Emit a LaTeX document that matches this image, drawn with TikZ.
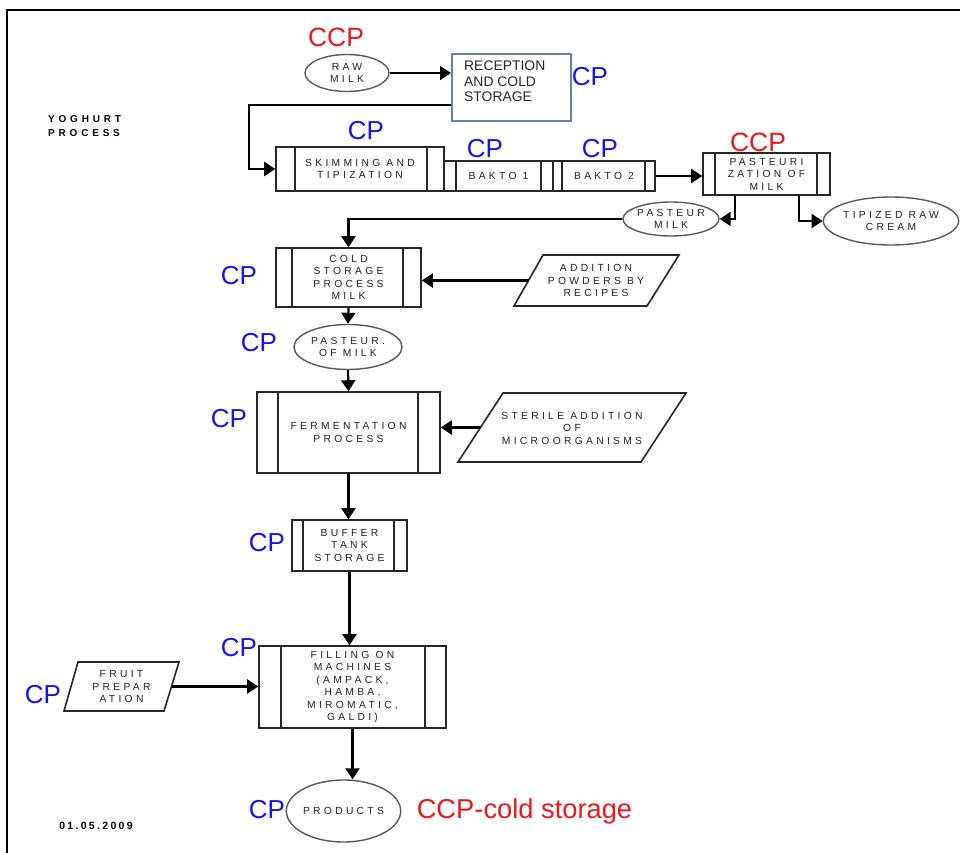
\documentclass[tikz,border=0pt]{standalone}
\usepackage{fontspec}
\setmainfont{Liberation Sans}
\newfontfamily\spc[LetterSpace=32]{Liberation Sans}
\newfontfamily\spcb[LetterSpace=38]{Liberation Sans Bold}
\newfontfamily\spcd[LetterSpace=22]{Liberation Sans Bold}
\usetikzlibrary{shapes.geometric,arrows.meta}
\definecolor{cpblue}{RGB}{20,20,235}
\definecolor{ccpred}{RGB}{235,25,30}
\definecolor{recline}{RGB}{100,130,165}
\tikzset{
 lbl/.style={font=\spc\fontsize{10.3}{12.5}\selectfont, text=black!88, align=center, inner sep=0pt},
 procbox/.style={draw=black!85, line width=1.6pt, rectangle, inner sep=0pt, lbl},
 barline/.style={draw=black!85, line width=1.6pt},
 oval/.style={draw=black!65, line width=1.4pt, ellipse, inner sep=0pt, lbl},
 para/.style={draw=black!85, line width=1.6pt},
 arr/.style={line width=2.2pt, -{Triangle[length=11pt,width=14pt]}},
 cp/.style={text=cpblue, font=\fontsize{26}{26}\selectfont, inner sep=0pt},
 ccp/.style={text=ccpred, font=\fontsize{26.5}{26.5}\selectfont, inner sep=0pt},
 title/.style={font=\spcb\fontsize{10}{14}\selectfont, inner sep=0pt, align=left},
}
\newcommand\ppbars[3]{%
 \draw[barline] ([xshift=#2pt]#1.north west) -- ([xshift=#2pt]#1.south west);
 \draw[barline] ([xshift=-#3pt]#1.north east) -- ([xshift=-#3pt]#1.south east);}
\begin{document}
\begin{tikzpicture}[x=1pt,y=-1pt]
\useasboundingbox (0,0) rectangle (968,853);
% frame
\draw[line width=2pt] (7,853) -- (7,10) -- (960,10);
% titles
\node[title, anchor=west] (ttl) at (48,126) {YOGHURT\\PROCESS};
\node[font=\spcd\fontsize{10.5}{12}\selectfont, inner sep=0pt] (date) at (96,826) {01.05.2009};

% top row
\node[oval, minimum width=84pt, minimum height=37pt] (raw) at (347,73) {RAW\\MILK};
\node[draw=recline, line width=2pt, rectangle, minimum width=119pt, minimum height=67pt, inner sep=0pt] (rec) at (511.5,87.5) {};
\node[anchor=west, align=left, font=\fontsize{13.9}{15.5}\selectfont, text=black!85, inner sep=0pt] (rectxt) at (464,81.5) {RECEPTION\\AND COLD\\STORAGE};

\node[procbox, minimum width=168pt, minimum height=44pt] (skim) at (360,169) {SKIMMING AND\\TIPIZATION};
\ppbars{skim}{20}{18}
\node[procbox, minimum width=109pt, minimum height=30pt] (b1) at (498.5,176) {BAKTO 1};
\ppbars{b1}{13}{13}
\node[procbox, minimum width=102pt, minimum height=30pt] (b2) at (604,176) {BAKTO 2};
\ppbars{b2}{10}{11}
\node[procbox, minimum width=127pt, minimum height=42pt] (past) at (766.5,174) {PASTEURI\\ZATION OF\\MILK};
\ppbars{past}{13}{14}
\node[oval, minimum width=96pt, minimum height=34pt] (pm) at (671,219) {PASTEUR\\MILK};
\node[oval, minimum width=124pt, minimum height=48pt] (trc) at (891,221) {TIPIZED RAW\\CREAM};

% main column
\node[procbox, minimum width=145pt, minimum height=59pt] (cold) at (348.5,277.5) {COLD\\STORAGE\\PROCESS\\MILK};
\ppbars{cold}{17}{19}
\draw[para] (543,255) -- (679,255) -- (647,306) -- (514,306) -- cycle;
\node[lbl] (add) at (596,280.5) {ADDITION\\POWDERS BY\\RECIPES};
\coordinate (addL) at (528.5,280.5);

\node[oval, minimum width=108pt, minimum height=45pt] (pom) at (348,347) {PASTEUR.\\OF MILK};

\node[procbox, minimum width=183pt, minimum height=81pt] (ferm) at (348.5,432.5) {FERMENTATION\\PROCESS};
\ppbars{ferm}{22}{23}
\draw[para] (503,393) -- (686,393) -- (641,462) -- (458,462) -- cycle;
\node[lbl] (ster) at (572,428) {STERILE ADDITION\\OF\\MICROORGANISMS};
\coordinate (sterL) at (480.5,427.5);

\node[procbox, minimum width=115pt, minimum height=51pt] (buf) at (349.5,545.5) {BUFFER\\TANK\\STORAGE};
\ppbars{buf}{12}{14}

\node[procbox, minimum width=187pt, minimum height=82pt] (fill) at (352.5,687) {FILLING ON\\MACHINES\\(AMPACK,\\HAMBA,\\MIROMATIC,\\GALDI)};
\ppbars{fill}{23}{22}
\draw[para] (78,662) -- (179,662) -- (164,711) -- (64,711) -- cycle;
\node[lbl] (fruit) at (121.5,686.5) {FRUIT\\PREPAR\\ATION};
\coordinate (fruitR) at (171.5,686.5);

\node[oval, minimum width=114pt, minimum height=62pt] (prod) at (343.5,811) {PRODUCTS};

% connectors
\coordinate (k1) at (249,105);
\draw[arr] (raw.east) -- (raw.east -| rec.west);
\draw[arr] (rec.west |- k1) -- (k1) |- (skim.west);
\draw[arr] (b2.east) -- (b2.east -| past.west);
\draw[arr] ([xshift=-31.5pt]past.south) |- (pm.east);
\draw[arr] ([xshift=32.5pt]past.south) |- (trc.west);
\draw[arr] (pm.west) -| (cold.north);
\draw[arr] (addL) -- (addL -| cold.east);
\draw[arr] (cold.south) -- (pom.north);
\draw[arr] (pom.south) -- (ferm.north);
\draw[arr] (sterL) -- (sterL -| ferm.east);
\draw[arr] (ferm.south) -- (ferm.south |- buf.north);
\draw[arr] (buf.south) -- (buf.south |- fill.north);
\draw[arr] (fruitR) -- (fruitR -| fill.west);
\draw[arr] (fill.south) -- (fill.south |- prod.north);

% CP / CCP labels
\node[ccp] (ccp1) at (336,37) {CCP};
\node[cp] (cp1) at (590,77) {CP};
\node[cp] (cp2) at (366,131) {CP};
\node[cp] (cp3) at (485,149) {CP};
\node[cp] (cp4) at (600,149) {CP};
\node[ccp] (ccp2) at (758,142) {CCP};
\node[cp] (cp5) at (239,276) {CP};
\node[cp] (cp6) at (259,343) {CP};
\node[cp] (cp7) at (229,419) {CP};
\node[cp] (cp8) at (267,543) {CP};
\node[cp] (cp9) at (239,648) {CP};
\node[cp] (cp10) at (43,695) {CP};
\node[cp] (cp11) at (267,810) {CP};
\node[ccp, font=\fontsize{27.3}{27.3}\selectfont] (ccp3) at (524.5,811) {CCP-cold storage};
\end{tikzpicture}
\end{document}
